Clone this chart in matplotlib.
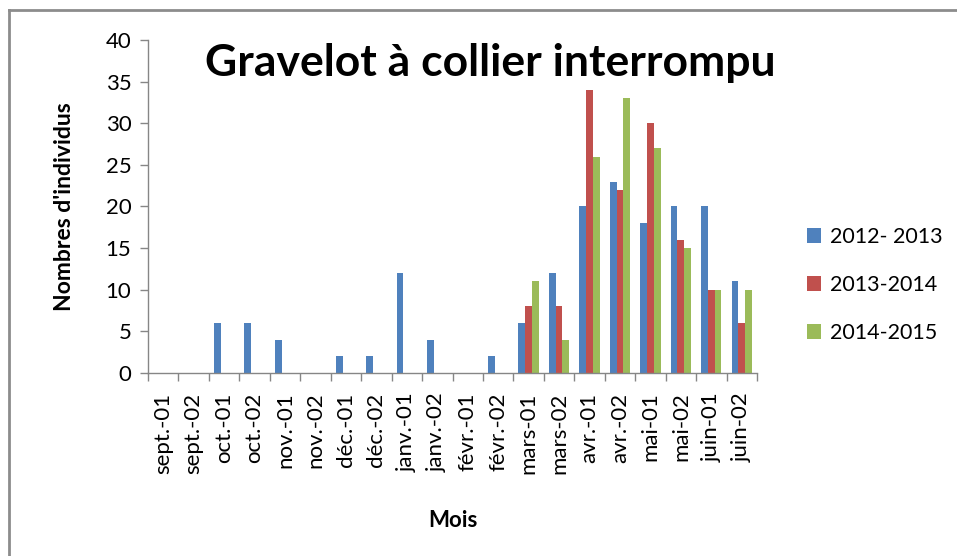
import matplotlib
matplotlib.use("Agg")
import matplotlib.pyplot as plt
import numpy as np
from matplotlib.lines import Line2D

plt.rcParams['font.family'] = ['Lato', 'DejaVu Sans']

categories = ["sept.-01", "sept.-02", "oct.-01", "oct.-02", "nov.-01", "nov.-02",
              "déc.-01", "déc.-02", "janv.-01", "janv.-02", "févr.-01", "févr.-02",
              "mars-01", "mars-02", "avr.-01", "avr.-02", "mai-01", "mai-02",
              "juin-01", "juin-02"]
s2012 = [0, 0, 6, 6, 4, 0, 2, 2, 12, 4, 0, 2, 6, 12, 20, 23, 18, 20, 20, 11]
s2013 = [0, 0, 0, 0, 0, 0, 0, 0, 0, 0, 0, 0, 8, 8, 34, 22, 30, 16, 10, 6]
s2014 = [0, 0, 0, 0, 0, 0, 0, 0, 0, 0, 0, 0, 11, 4, 26, 33, 27, 15, 10, 10]
series_names = ["2012- 2013", "2013-2014", "2014-2015"]
colors = ["#4F81BD", "#C0504D", "#9BBB59"]

fig = plt.figure(figsize=(9.57, 5.56), dpi=100)
ax = fig.add_axes([148/957, 1-373/556, (757-148)/957, (373-40)/556])

x = np.arange(len(categories))
w = 1/4.5
for i, (vals, c, n) in enumerate(zip([s2012, s2013, s2014], colors, series_names)):
    ax.bar(x + (i-1)*w, vals, width=w, color=c, label=n, edgecolor='none')

ax.set_xlim(-0.5, len(categories)-0.5)
ax.set_ylim(0, 40)
ax.set_yticks(range(0, 41, 5))
ax.set_xticks(x)
ax.set_xticklabels(categories, rotation=90, fontsize=16)
ax.tick_params(axis='x', length=0, pad=14)
ax.set_xticks(np.arange(-0.5, len(categories)), minor=True)
ax.tick_params(axis='x', which='minor', length=6, color='#868686', width=1)
ax.tick_params(axis='y', labelsize=16, length=6, color='#868686', width=1, pad=6)
for s in ['top', 'right']:
    ax.spines[s].set_visible(False)
for s in ['left', 'bottom']:
    ax.spines[s].set_color('#868686')
    ax.spines[s].set_linewidth(1)

ax.set_ylabel("Nombres d'individus", fontsize=16.5, fontweight='bold', labelpad=22)
ax.set_xlabel("Mois", fontsize=16, fontweight='bold', labelpad=26)
ax.set_title("Gravelot à collier interrompu", fontsize=32, fontweight='bold',
             x=(490-148)/(757-148), y=0.845, va='bottom')

leg = fig.legend(loc='center left', bbox_to_anchor=(788/957, 1-285/556), frameon=False,
                 fontsize=15.5, handlelength=0.65, handleheight=0.65, labelspacing=1.3,
                 handletextpad=0.4)

fig.add_artist(Line2D([9/957, 9/957], [0, 1-10/556], color='#8c8c8c', lw=2, transform=fig.transFigure))
fig.add_artist(Line2D([9/957, 1], [1-10/556, 1-10/556], color='#8c8c8c', lw=2, transform=fig.transFigure))

fig.savefig("out.png", dpi=100)
